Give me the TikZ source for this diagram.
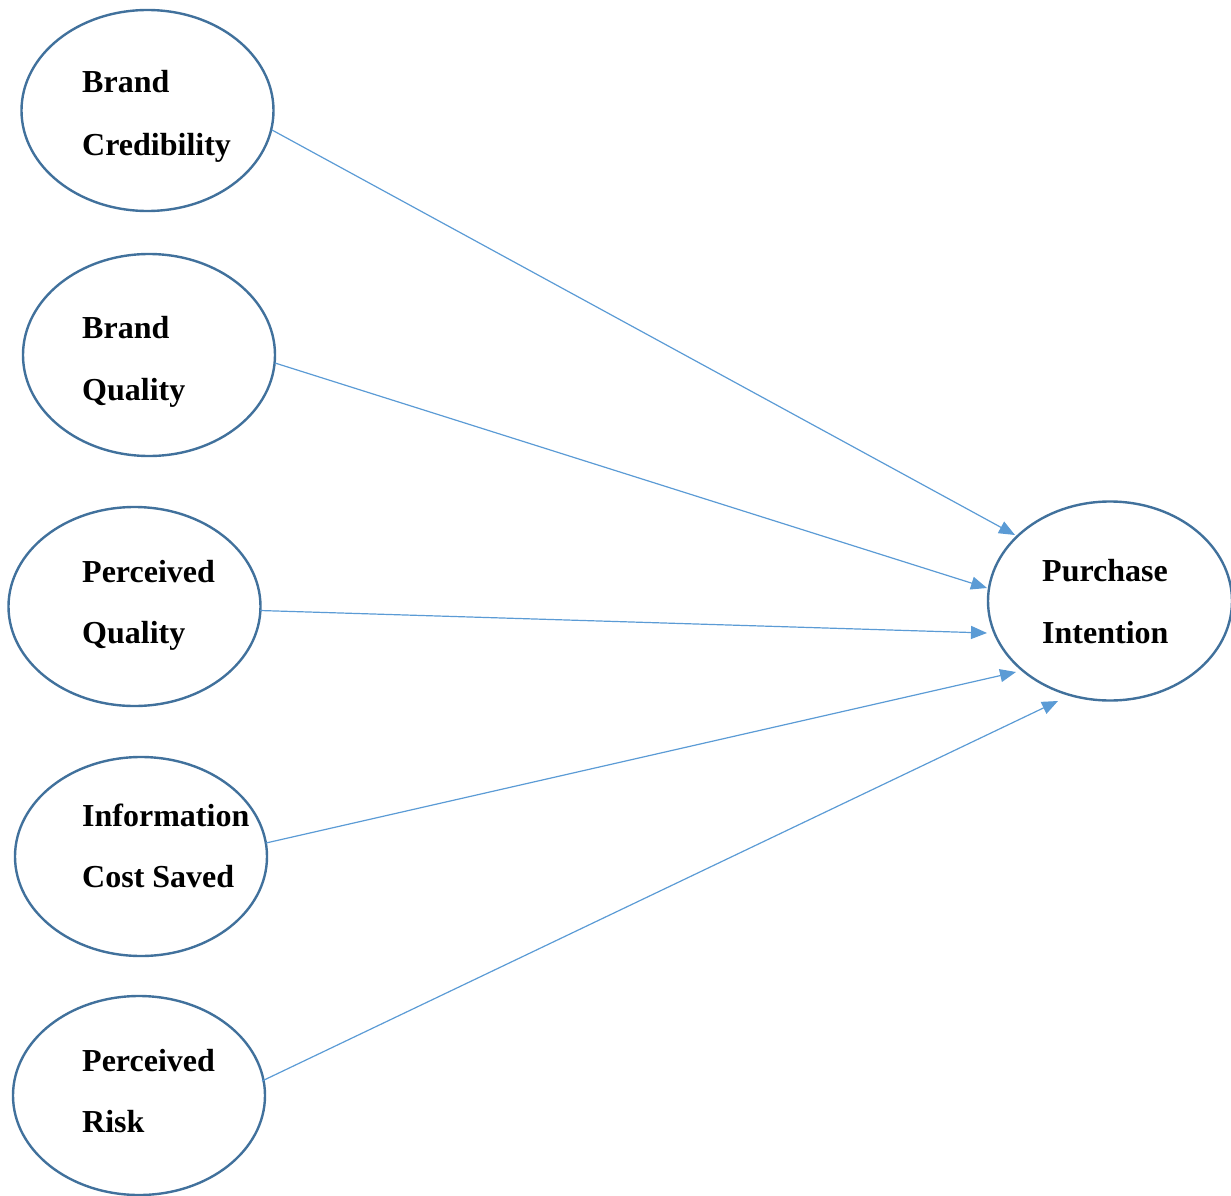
\documentclass[tikz,border=0pt]{standalone}
\usepackage{fontspec}
\setmainfont{Liberation Serif}
\usetikzlibrary{shapes.geometric,arrows.meta}
\definecolor{rim}{HTML}{41719C}
\definecolor{link}{HTML}{5B9BD5}
\begin{document}
\begin{tikzpicture}[x=1pt,y=-1pt,
  construct/.style={ellipse,draw=rim,line width=2.4pt,fill=white,inner sep=0pt,
    minimum width=#1},
  construct/.default=252pt,
  label/.style={anchor=base west,inner sep=0pt,
    font=\fontsize{32}{38}\selectfont\bfseries},
  path/.style={draw=link,line width=1.2pt,
    -{Triangle[length=16pt,width=13pt]}}]
\useasboundingbox (0,0) rectangle (1231,1196);
\begin{scope}
\clip (0,0) rectangle (1231,1196);

% exogenous constructs
\node[construct, minimum height=201pt] (bc) at (147.5,110.5) {};
\node[construct, minimum height=202pt] (bq) at (149,355) {};
\node[construct, minimum height=199pt] (pq) at (134.5,606.5) {};
\node[construct, minimum height=199pt] (ic) at (141,856.5) {};
\node[construct, minimum height=199pt] (pr) at (139,1095.5) {};
% outcome
\node[construct=244pt, minimum height=199pt] (pi) at (1110,601) {};

% labels
\node[label] (bc1) at (82,93) {Brand};
\node[label] (bc2) at (82,155) {Credibility};
\node[label] (bq1) at (82,338) {Brand};
\node[label] (bq2) at (82,400) {Quality};
\node[label] (pq1) at (82,582) {Perceived};
\node[label] (pq2) at (82,643) {Quality};
\node[label] (ic1) at (82,826) {Information};
\node[label] (ic2) at (82,887) {Cost Saved};
\node[label] (pr1) at (82,1071) {Perceived};
\node[label] (pr2) at (82,1132) {Risk};
\node[label] (pi1) at (1042,581) {Purchase};
\node[label] (pi2) at (1042,643) {Intention};

% hypothesised paths, each leaving the rim of its construct
\draw[path] ([shift={(124.5,19.5)}]bc.center) -- ([shift={(-95,-66)}]pi.center);
\draw[path] ([shift={(126,8)}]bq.center) -- ([shift={(-123,-13)}]pi.center);
\draw[path] ([shift={(125.5,4)}]pq.center) -- ([shift={(-123,32)}]pi.center);
\draw[path] ([shift={(125,-13.5)}]ic.center) -- ([shift={(-94,71)}]pi.center);
\draw[path] ([shift={(123,-14.5)}]pr.center) -- ([shift={(-52,100)}]pi.center);
\end{scope}
\end{tikzpicture}
\end{document}
